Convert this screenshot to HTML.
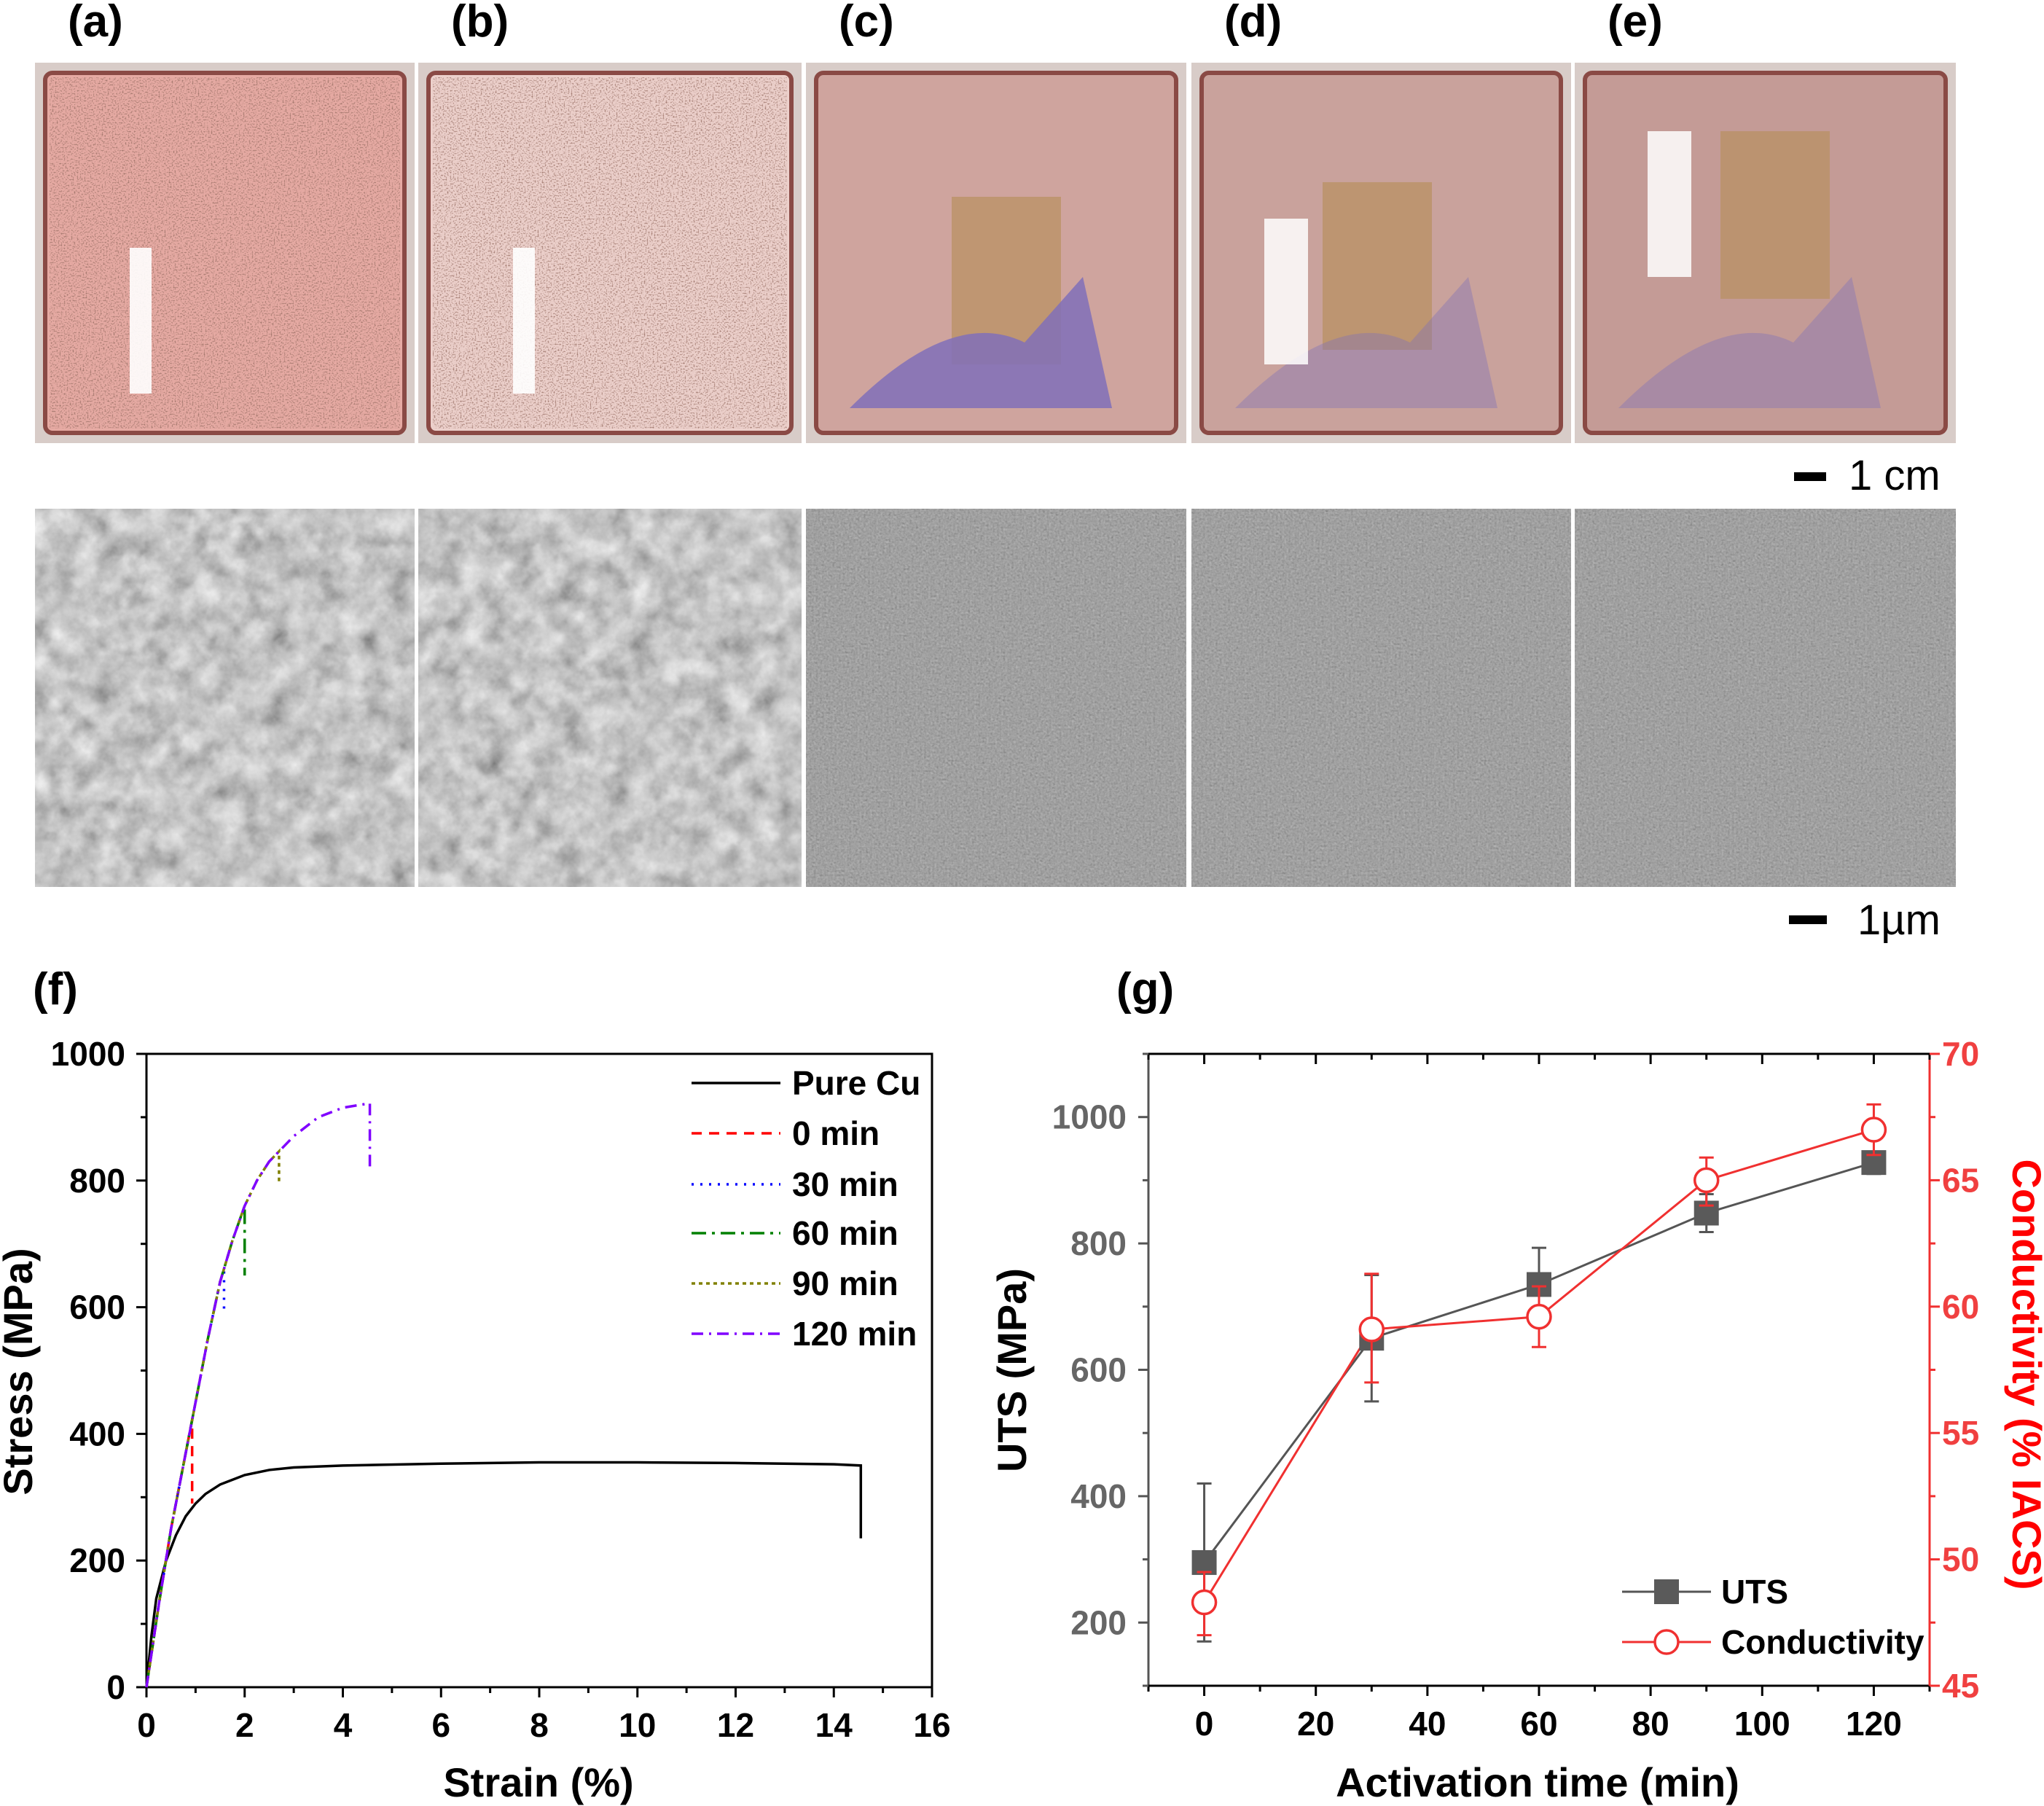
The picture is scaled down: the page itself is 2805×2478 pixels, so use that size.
<!DOCTYPE html>
<html><head><meta charset="utf-8"><style>
html,body{margin:0;padding:0;background:#fff}
svg{display:block}
text{font-family:"Liberation Sans Narrow","Liberation Sans",sans-serif;font-weight:bold}
</style></head><body>
<svg id="root" width="2805" height="2478" viewBox="0 0 2805 2478" xmlns="http://www.w3.org/2000/svg">
<defs>
<filter id="noise" x="0" y="0" width="100%" height="100%"><feTurbulence type="fractalNoise" baseFrequency="0.35" numOctaves="2" seed="3"/><feColorMatrix type="matrix" values="0.33 0.33 0.33 0 0  0.33 0.33 0.33 0 0  0.33 0.33 0.33 0 0  0 0 0 0 1"/></filter>
<filter id="blobs" x="0" y="0" width="100%" height="100%"><feTurbulence type="fractalNoise" baseFrequency="0.03" numOctaves="4" seed="7"/><feColorMatrix type="matrix" values="0.4 0.4 0.4 0 -0.05  0.4 0.4 0.4 0 -0.05  0.4 0.4 0.4 0 -0.05  0 0 0 0 1"/></filter>
<filter id="spots" x="0" y="0" width="100%" height="100%"><feTurbulence type="fractalNoise" baseFrequency="0.5" numOctaves="1" seed="11"/><feColorMatrix type="matrix" values="0 0 0 0 0.3  0 0 0 0 0.15  0 0 0 0 0.12  -3 0 0 0 1.55"/></filter>
</defs>
<g id="photos"></g>
<g id="sems"></g>
<g><rect x="2462" y="648" width="44" height="12" fill="#000"/><text x="2537" y="672" font-size="58" font-weight="normal" style="font-weight:normal;font-family:'Liberation Sans',sans-serif">1 cm</text></g>
<g><rect x="2455" y="1256" width="52" height="12" fill="#000"/><text x="2549" y="1282" font-size="58" style="font-weight:normal;font-family:'Liberation Sans',sans-serif">1µm</text></g>
<g id="chartF"></g>
<g id="chartG"></g>
</svg>
<script>
// ---- chart (f) data ----
const pureStrain=[0,0.1,0.2,0.4,0.6,0.8,1.0,1.2,1.5,2.0,2.5,3.0,4.0,6.0,8.0,10.0,12.0,14.0,14.55,14.55];
const pureStress=[0,80,140,200,240,270,290,305,320,335,343,347,350,353,355,355,354,352,350,235];
const actStrain=[0,0.25,0.5,0.75,1.0,1.25,1.5,1.75,2.0,2.25,2.5,2.75,3.0,3.5,4.0,4.55];
const actStress=[0,130,250,350,450,550,640,705,760,800,830,850,870,900,915,922];
const seriesNames=["0 min","30 min","60 min","90 min","120 min"];
const seriesEnd=[0.93,1.58,2.0,2.7,4.55];
const seriesDrop=[290,590,650,795,815];
const xTicksF=[0,2,4,6,8,10,12,14,16];
const yTicksF=[0,200,400,600,800,1000];
// ---- chart (g) data ----
const actTime=[0,30,60,90,120];
const utsVal=[295,650,735,848,928];
const utsErrHi=[420,750,793,878,945];
const utsErrLo=[170,550,690,818,910];
const condVal=[48.3,59.1,59.6,65.0,67.0];
const condErrHi=[49.5,61.3,60.8,65.9,68.0];
const condErrLo=[47.0,57.0,58.4,64.0,66.0];
const xTicksG=[0,20,40,60,80,100,120];
const yTicksG=[200,400,600,800,1000];
const yTicksG2=[45,50,55,60,65,70];

const NS="http://www.w3.org/2000/svg";
function mk(parent,tag,attrs,txt){const e=document.createElementNS(NS,tag);for(const k in attrs)e.setAttribute(k,attrs[k]);if(txt!==undefined)e.textContent=txt;parent.appendChild(e);return e;}

// photos
const panelX=[48,574,1106,1635,2161],panelW=[521,526,522,521,523];
const labels=["(a)","(b)","(c)","(d)","(e)"];
const photoFill=["#e6aaa3","#ecd0cb","#cfa49e","#c9a29c","#c49b96"];
const P=document.getElementById('photos'),S=document.getElementById('sems');
panelX.forEach((x,i)=>{
  const g=mk(P,'g',{});
  
  
  mk(g,'rect',{x:x,y:86,width:panelW[i],height:522,fill:"#d8ccc8"});
  mk(g,'rect',{x:x+14,y:100,width:panelW[i]-28,height:494,fill:photoFill[i],stroke:"#8a4a45","stroke-width":6,rx:10});
  if(i<2){mk(g,'rect',{x:x+20,y:106,width:panelW[i]-40,height:482,filter:"url(#spots)",opacity:0.9});
    mk(g,'rect',{x:x+130,y:340,width:30,height:200,fill:"#fff",opacity:0.9});}
  if(i>=2){mk(g,'rect',{x:x+(i==2?200:i==3?180:200),y:(i==2?270:i==3?250:180),width:150,height:230,fill:"#b89060",opacity:0.7});
    mk(g,'path',{d:`M${x+60} ${560} Q${x+200} ${420} ${x+300} ${470} L${x+380} ${380} L${x+420} ${560} Z`,fill:"#8070b8",opacity:i==2?0.85:0.4});
    if(i>=3)mk(g,'rect',{x:x+100,y:(i==3?300:180),width:60,height:200,fill:"#fff",opacity:0.85});}
  const t=mk(S,'text',{x:x+45,y:50,"font-size":62,fill:"#000"},labels[i]);
  
  
  const s=mk(S,'g',{});
  
  
  mk(s,'rect',{x:x,y:698,width:panelW[i],height:519,fill:"#808080"});
  mk(s,'rect',{x:x,y:698,width:panelW[i],height:519,filter:i<2?"url(#blobs)":"url(#noise)",opacity:i<2?1:0.55});
});
mk(S,'text',{x:45,y:1378,"font-size":62,fill:"#000"},"(f)");
mk(S,'text',{x:1532,y:1378,"font-size":62,fill:"#000"},"(g)");

// ---- chart f ----
const F=document.getElementById('chartF');
const fx0=201,fx1=1279,fy0=2315,fy1=1446;
const fX=v=>fx0+(v-0)/(16-0)*(fx1-fx0);
const fY=v=>fy0-(v-0)/(1000-0)*(fy0-fy1);
mk(F,'rect',{x:fx0,y:fy1,width:fx1-fx0,height:fy0-fy1,fill:"none",stroke:"#000","stroke-width":3});
xTicksF.forEach(v=>{mk(F,'line',{x1:fX(v),x2:fX(v),y1:fy0,y2:fy0+14,stroke:"#000","stroke-width":3});
  if(v<16)mk(F,'line',{x1:fX(v+1),x2:fX(v+1),y1:fy0,y2:fy0+8,stroke:"#000","stroke-width":3});
  mk(F,'text',{x:fX(v),y:2383,"font-size":46,"text-anchor":"middle"},v);});
yTicksF.forEach(v=>{mk(F,'line',{x1:fx0-14,x2:fx0,y1:fY(v),y2:fY(v),stroke:"#000","stroke-width":3});
  if(v<1000)mk(F,'line',{x1:fx0-8,x2:fx0,y1:fY(v+100),y2:fY(v+100),stroke:"#000","stroke-width":3});
  mk(F,'text',{x:172,y:fY(v)+16,"font-size":46,"text-anchor":"end"},v);});
mk(F,'text',{x:739,y:2465,"font-size":56,"text-anchor":"middle"},"Strain (%)");
mk(F,'text',{x:0,y:0,"font-size":56,"text-anchor":"middle",transform:"translate(44,1882) rotate(-90)"},"Stress (MPa)");
const pc=mk(F,'polyline',{points:pureStrain.map((s,i)=>fX(s)+","+fY(pureStress[i])).join(" "),fill:"none",stroke:"#000","stroke-width":3.5});


const cols=["#ff0000","#0000ff","#008000","#808000","#8000ff"];
const dashes=["14,10","3,9","20,8,4,8","5,5","16,8,3,8"];
seriesNames.forEach((n,k)=>{
  const pts=[];
  for(let i=0;i<actStrain.length;i++){
    if(actStrain[i]<seriesEnd[k])pts.push([actStrain[i],actStress[i]]);
    else{const a=actStrain[i-1],b=actStrain[i],t=(seriesEnd[k]-a)/(b-a);pts.push([seriesEnd[k],actStress[i-1]+t*(actStress[i]-actStress[i-1])]);break;}
  }
  pts.push([seriesEnd[k],seriesDrop[k]]);
  const pl=mk(F,'polyline',{points:pts.map(p=>fX(p[0])+","+fY(p[1])).join(" "),fill:"none",stroke:cols[k],"stroke-width":3.5,"stroke-dasharray":dashes[k]});
  
  
});
const legNames=["Pure Cu"].concat(seriesNames),legCols=["#000"].concat(cols),legDash=["none"].concat(dashes);
const legY=[1486,1555,1625,1692,1761,1830];
legNames.forEach((n,i)=>{
  const g=mk(F,'g',{});
  
  
  mk(g,'line',{x1:949,x2:1071,y1:legY[i],y2:legY[i],stroke:legCols[i],"stroke-width":3.5,"stroke-dasharray":legDash[i]});
  mk(g,'text',{x:1087,y:legY[i]+16,"font-size":46},n);
});

// ---- chart g ----
const G=document.getElementById('chartG');
const gx0=1576,gx1=2648,gy0=2313,gy1=1446;
const gX=v=>gx0+(v+10)/140*(gx1-gx0);
const gY=v=>gy0-(v-100)/1000*(gy0-gy1);
const gY2=v=>gy0-(v-45)/25*(gy0-gy1);
mk(G,'line',{x1:gx0,x2:gx0,y1:gy1,y2:gy0,stroke:"#555","stroke-width":3});
mk(G,'line',{x1:gx0,x2:gx1,y1:gy0,y2:gy0,stroke:"#000","stroke-width":3});
mk(G,'line',{x1:gx0,x2:gx1,y1:gy1,y2:gy1,stroke:"#000","stroke-width":3});
mk(G,'line',{x1:gx1,x2:gx1,y1:gy1,y2:gy0,stroke:"#f03030","stroke-width":3});
for(let v=-10;v<=130;v+=10){const big=v%20===0;
  mk(G,'line',{x1:gX(v),x2:gX(v),y1:gy0,y2:gy0+(big?14:8),stroke:"#000","stroke-width":3});
  mk(G,'line',{x1:gX(v),x2:gX(v),y1:gy1,y2:gy1+(big?14:8),stroke:"#000","stroke-width":3});}
xTicksG.forEach(v=>mk(G,'text',{x:gX(v),y:2381,"font-size":46,"text-anchor":"middle"},v));
for(let v=100;v<=1100;v+=100){mk(G,'line',{x1:gx0-(v%200===0?14:8),x2:gx0,y1:gY(v),y2:gY(v),stroke:"#555","stroke-width":3});}
yTicksG.forEach(v=>mk(G,'text',{x:1546,y:gY(v)+16,"font-size":46,"text-anchor":"end",fill:"#666"},v));
for(let v=45;v<=70;v+=2.5){mk(G,'line',{x1:gx1,x2:gx1+(v%5===0?14:8),y1:gY2(v),y2:gY2(v),stroke:"#f03030","stroke-width":3});}
yTicksG2.forEach(v=>mk(G,'text',{x:2665,y:gY2(v)+16,"font-size":46,fill:"#f04040"},v));
mk(G,'text',{x:2110,y:2465,"font-size":56,"text-anchor":"middle"},"Activation time (min)");
mk(G,'text',{x:0,y:0,"font-size":56,"text-anchor":"middle",transform:"translate(1408,1880) rotate(-90)"},"UTS (MPa)");
mk(G,'text',{x:0,y:0,"font-size":56,"text-anchor":"middle",fill:"#ff0000",transform:"translate(2762,1886) rotate(90)"},"Conductivity (% IACS)");
const ul=mk(G,'polyline',{points:actTime.map((t,i)=>gX(t)+","+gY(utsVal[i])).join(" "),fill:"none",stroke:"#555","stroke-width":3});


const cl=mk(G,'polyline',{points:actTime.map((t,i)=>gX(t)+","+gY2(condVal[i])).join(" "),fill:"none",stroke:"#f03030","stroke-width":3});


actTime.forEach((t,i)=>{
  const x=gX(t);
  mk(G,'line',{x1:x,x2:x,y1:gY(utsErrLo[i]),y2:gY(utsErrHi[i]),stroke:"#555","stroke-width":3});
  mk(G,'line',{x1:x-10,x2:x+10,y1:gY(utsErrLo[i]),y2:gY(utsErrLo[i]),stroke:"#555","stroke-width":3});
  mk(G,'line',{x1:x-10,x2:x+10,y1:gY(utsErrHi[i]),y2:gY(utsErrHi[i]),stroke:"#555","stroke-width":3});
  const r=mk(G,'rect',{x:x-17,y:gY(utsVal[i])-17,width:34,height:34,fill:"#5a5a5a"});
  
  
  mk(G,'line',{x1:x,x2:x,y1:gY2(condErrLo[i]),y2:gY2(condErrHi[i]),stroke:"#f03030","stroke-width":3});
  mk(G,'line',{x1:x-10,x2:x+10,y1:gY2(condErrLo[i]),y2:gY2(condErrLo[i]),stroke:"#f03030","stroke-width":3});
  mk(G,'line',{x1:x-10,x2:x+10,y1:gY2(condErrHi[i]),y2:gY2(condErrHi[i]),stroke:"#f03030","stroke-width":3});
  const c=mk(G,'circle',{cx:x,cy:gY2(condVal[i]),r:16,fill:"#fff",stroke:"#f03030","stroke-width":3.5});
  
  
});
const l1=mk(G,'g',{});


mk(l1,'line',{x1:2226,x2:2348,y1:2184,y2:2184,stroke:"#555","stroke-width":3});
mk(l1,'rect',{x:2270,y:2167,width:34,height:34,fill:"#5a5a5a"});
mk(l1,'text',{x:2362,y:2200,"font-size":46},"UTS");
const l2=mk(G,'g',{});


mk(l2,'line',{x1:2226,x2:2348,y1:2253,y2:2253,stroke:"#f03030","stroke-width":3});
mk(l2,'circle',{cx:2287,cy:2253,r:16,fill:"#fff",stroke:"#f03030","stroke-width":3.5});
mk(l2,'text',{x:2362,y:2269,"font-size":46},"Conductivity");
</script>
</body></html>
